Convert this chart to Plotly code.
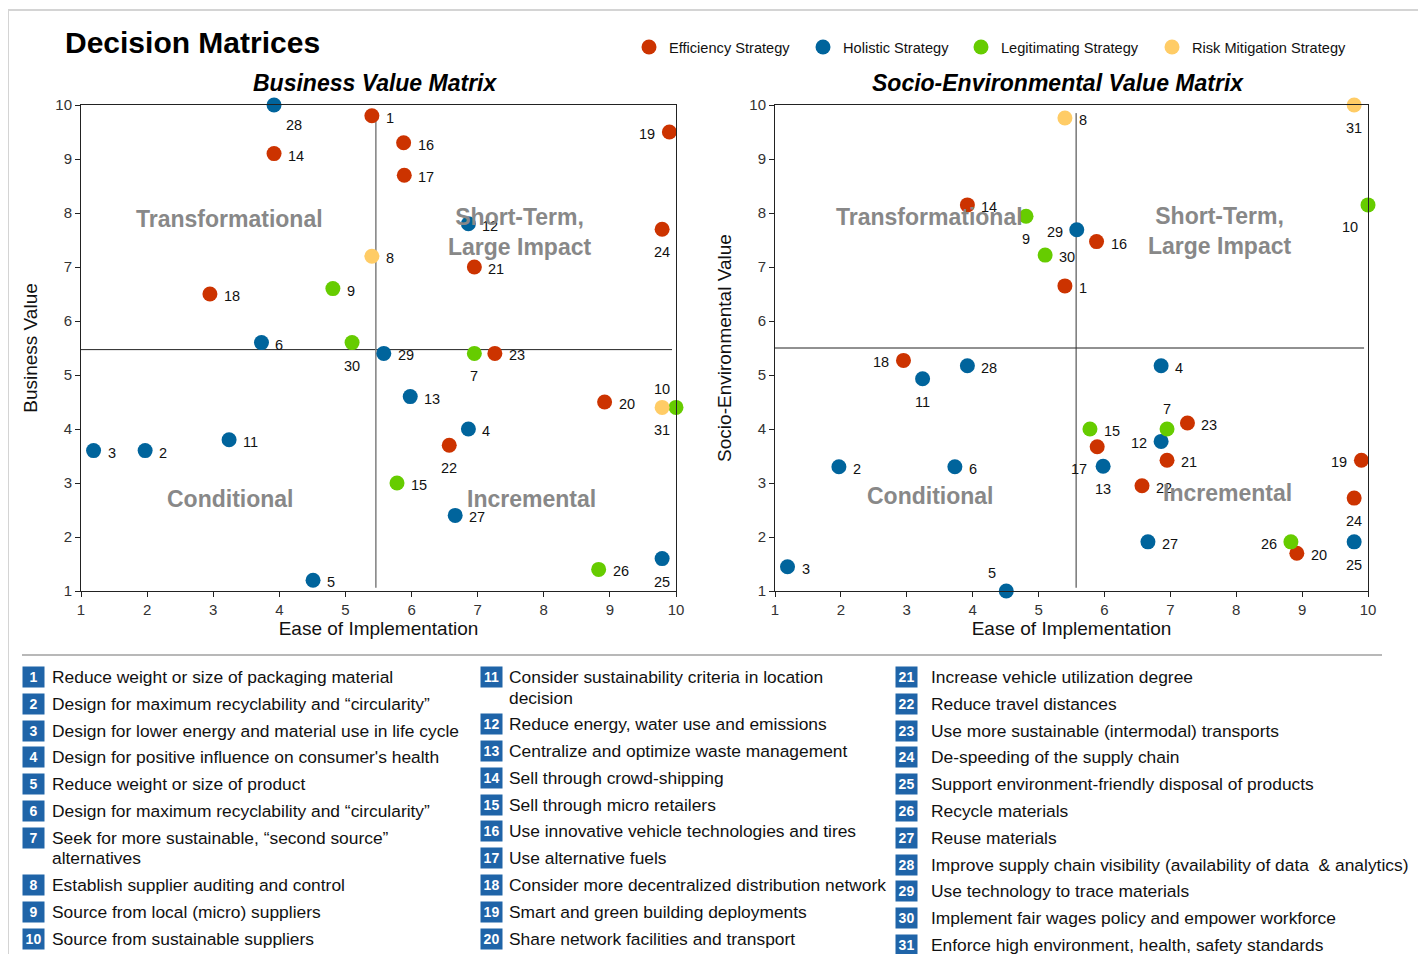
import plotly.graph_objects as go

# measure ids 1..31 and their strategy type
ids = list(range(1, 32))
strategy = ["Efficiency", "Holistic", "Holistic", "Holistic", "Holistic", "Holistic",
            "Legitimating", "Risk Mitigation", "Legitimating", "Legitimating",
            "Holistic", "Holistic", "Holistic", "Efficiency", "Legitimating",
            "Efficiency", "Efficiency", "Efficiency", "Efficiency", "Efficiency",
            "Efficiency", "Efficiency", "Efficiency", "Efficiency", "Holistic",
            "Legitimating", "Holistic", "Holistic", "Holistic", "Legitimating",
            "Risk Mitigation"]

# ease of implementation (same for both matrices)
ease = [5.4, 1.97, 1.19, 6.86, 4.51, 3.73, 6.95, 5.4, 4.81, 10.0,
        3.24, 6.86, 5.98, 3.92, 5.78, 5.88, 5.89, 2.95, 9.9, 8.92,
        6.95, 6.57, 7.26, 9.79, 9.79, 8.83, 6.66, 3.92, 5.58, 5.1, 9.79]

business_value = [9.8, 3.6, 3.6, 4.0, 1.2, 5.6, 5.4, 7.2, 6.6, 4.4,
                  3.8, 7.8, 4.6, 9.1, 3.0, 9.3, 8.7, 6.5, 9.5, 4.5,
                  7.0, 3.7, 5.4, 7.7, 1.6, 1.4, 2.4, 10.0, 5.4, 5.6, 4.4]

socio_env_value = [6.65, 3.3, 1.45, 5.17, 1.0, 3.3, 4.0, 9.76, 7.94, 8.15,
                   4.93, 3.77, 3.31, 8.15, 4.0, 7.47, 3.67, 5.27, 3.42, 1.7,
                   3.42, 2.95, 4.11, 2.72, 1.91, 1.91, 1.91, 5.17, 7.69, 7.22, 10.0]

# quadrant split lines (ease, value)
split_bv = (5.46, 5.47)
split_se = (5.57, 5.5)

descriptions = [
    "Reduce weight or size of packaging material",
    "Design for maximum recyclability and “circularity”",
    "Design for lower energy and material use in life cycle",
    "Design for positive influence on consumer's health",
    "Reduce weight or size of product",
    "Design for maximum recyclability and “circularity”",
    "Seek for more sustainable, “second source”<br>alternatives",
    "Establish supplier auditing and control",
    "Source from local (micro) suppliers",
    "Source from sustainable suppliers",
    "Consider sustainability criteria in location<br>decision",
    "Reduce energy, water use and emissions",
    "Centralize and optimize waste management",
    "Sell through crowd-shipping",
    "Sell through micro retailers",
    "Use innovative vehicle technologies and tires",
    "Use alternative fuels",
    "Consider more decentralized distribution network",
    "Smart and green building deployments",
    "Share network facilities and transport",
    "Increase vehicle utilization degree",
    "Reduce travel distances",
    "Use more sustainable (intermodal) transports",
    "De-speeding of the supply chain",
    "Support environment-friendly disposal of products",
    "Recycle materials",
    "Reuse materials",
    "Improve supply chain visibility (availability of data  & analytics)",
    "Use technology to trace materials",
    "Implement fair wages policy and empower workforce",
    "Enforce high environment, health, safety standards",
]

strategies = ["Efficiency", "Holistic", "Legitimating", "Risk Mitigation"]
colors = {"Efficiency": "#CC3300", "Holistic": "#00649C",
          "Legitimating": "#66CC00", "Risk Mitigation": "#FFCC66"}
legend_x = {"Efficiency": 629, "Holistic": 803, "Legitimating": 961, "Risk Mitigation": 1152}

# label placement around each marker (default: right)
bv_pos = {7: "b", 10: "tl", 19: "l", 22: "b", 24: "b", 25: "b", 28: "br", 30: "b", 31: "b"}
se_pos = {5: "tl", 7: "t", 9: "b", 10: "bl", 11: "b", 12: "l", 13: "b", 17: "bl",
          18: "l", 19: "l", 24: "b", 25: "b", 26: "l", 29: "l", 31: "b"}
# (xanchor, xshift, yshift)
placements = {"r": ("left", 12, -2), "l": ("right", -12, -2), "b": ("center", 0, -23),
              "t": ("center", 0, 20), "br": ("left", 10, -20), "bl": ("center", -18, -22),
              "tl": ("center", -14, 18)}

# page has an 8px body margin, so the figure is drawn inside it
# (height runs a bit past the window so the last list row is not cut)
PAD = 8
FW, FH = 1426 - 2 * PAD, 954 - PAD + 12
FONT = "Liberation Sans, Arial, sans-serif"


def px(x):
    return (x - PAD) / FW


def py(y):
    return 1 - (y - PAD) / FH


fig = go.Figure()

panels = [(business_value, bv_pos, "x", "y"), (socio_env_value, se_pos, "x2", "y2")]
for n_leg, s in enumerate(strategies):
    idx = [i for i in range(len(ids)) if strategy[i] == s]
    for k, (vals, pos, xa, ya) in enumerate(panels):
        fig.add_trace(go.Scatter(
            x=[ease[i] for i in idx],
            y=[vals[i] for i in idx],
            mode="markers",
            marker=dict(size=15, color=colors[s], line=dict(width=0)),
            name=s + " Strategy",
            legend="legend" if n_leg == 0 else "legend%d" % (n_leg + 1),
            showlegend=(k == 0),
            cliponaxis=False,
            xaxis=xa, yaxis=ya,
        ))

# point number labels
for vals, pos, xa, ya in panels:
    for i in range(len(ids)):
        xanc, dx, dy = placements[pos.get(ids[i], "r")]
        fig.add_annotation(x=ease[i], y=vals[i], xref=xa, yref=ya, text=str(ids[i]),
                           showarrow=False, xanchor=xanc, yanchor="middle",
                           xshift=dx, yshift=dy,
                           font=dict(size=14.5, color="#111"))

axis_common = dict(range=[1, 10], dtick=1, showline=True, linecolor="#222", linewidth=1,
                   mirror=True, ticks="outside", ticklen=5, tickcolor="#222",
                   showgrid=False, zeroline=False, automargin=False,
                   tickfont=dict(size=15, color="#333", family=FONT))
ydom = [py(591), py(105)]

layout_legends = {}
for n_leg, s in enumerate(strategies):
    key = "legend" if n_leg == 0 else "legend%d" % (n_leg + 1)
    layout_legends[key] = dict(orientation="h", x=px(legend_x[s]), xanchor="left",
                               y=py(47), yanchor="middle",
                               font=dict(size=14.6, family=FONT, color="#111"),
                               bgcolor="rgba(0,0,0,0)")

fig.update_layout(
    width=FW, height=FH,
    margin=dict(l=0, r=0, t=0, b=0, autoexpand=False),
    plot_bgcolor="white", paper_bgcolor="white",
    font=dict(family=FONT, color="#111"),
    xaxis=dict(domain=[px(81), px(676)], anchor="y",
               title=dict(text="Ease of Implementation", font=dict(size=19), standoff=4),
               **axis_common),
    yaxis=dict(domain=ydom, anchor="x",
               title=dict(text="Business Value", font=dict(size=19), standoff=12),
               **axis_common),
    xaxis2=dict(domain=[px(775), px(1368)], anchor="y2",
                title=dict(text="Ease of Implementation", font=dict(size=19), standoff=4),
                **axis_common),
    yaxis2=dict(domain=ydom, anchor="x2",
                title=dict(text="Socio-Environmental Value", font=dict(size=19), standoff=12),
                **axis_common),
    showlegend=True,
    **layout_legends,
)

# quadrant split lines
for (sx, sy), xr, yr, vcol, vw in [(split_bv, "x", "y", "#7f7f7f", 1.5),
                                   (split_se, "x2", "y2", "#333", 1)]:
    fig.add_shape(type="line", xref=xr, yref=yr, x0=1, x1=9.94, y0=sy, y1=sy,
                  line=dict(color="#222", width=1), layer="below")
    fig.add_shape(type="line", xref=xr, yref=yr, x0=sx, x1=sx, y0=1.06, y1=9.85,
                  line=dict(color=vcol, width=vw), layer="below")

# quadrant names
qfont = dict(size=23, color="#888888", family=FONT)
for xr, yr, items in [("x", "y", [(3.25, 7.89, "Transformational"),
                                  (7.63, 7.65, "Short-Term,<br>Large Impact"),
                                  (3.25, 2.7, "Conditional"),
                                  (7.82, 2.7, "Incremental")]),
                      ("x2", "y2", [(3.35, 7.93, "Transformational"),
                                    (7.75, 7.67, "Short-Term,<br>Large Impact"),
                                    (3.35, 2.76, "Conditional"),
                                    (7.86, 2.82, "Incremental")])]:
    for qx, qy, t in items:
        fig.add_annotation(x=qx, y=qy, xref=xr, yref=yr, text="<b>" + t + "</b>",
                           showarrow=False, xanchor="center", yanchor="middle", font=qfont)

# titles
fig.add_annotation(x=px(63), y=py(42), xref="paper", yref="paper", xanchor="left",
                   yanchor="middle", text="<b>Decision Matrices</b>", showarrow=False,
                   font=dict(size=30, color="#000"))
fig.add_annotation(x=px(375), y=py(83), xref="paper", yref="paper", xanchor="center",
                   yanchor="middle", text="<b><i>Business Value Matrix</i></b>",
                   showarrow=False, font=dict(size=23, color="#000"))
fig.add_annotation(x=px(1058), y=py(83), xref="paper", yref="paper", xanchor="center",
                   yanchor="middle", text="<b><i>Socio-Environmental Value Matrix</i></b>",
                   showarrow=False, font=dict(size=23, color="#000"))

# outer frame and separator
fig.add_shape(type="rect", xref="paper", yref="paper", x0=px(8), x1=px(1421),
              y0=py(1000), y1=py(10), line=dict(color="#d4d4d4", width=2))
fig.add_shape(type="line", xref="paper", yref="paper", x0=px(22), x1=px(1382),
              y0=py(655), y1=py(655), line=dict(color="#a0a0a0", width=1.5))

# numbered description list, three columns
columns = [(ids[0:10], 33.5, 50), (ids[10:20], 491, 507), (ids[20:31], 906.5, 929)]
for col_ids, box_x, text_x in columns:
    y = 677.0
    for n in col_ids:
        lines = descriptions[n - 1].split("<br>")
        fig.add_annotation(x=px(box_x), y=py(y), xref="paper", yref="paper",
                           xanchor="center", yanchor="middle",
                           text="<b>%d</b>" % n, showarrow=False, width=19, height=18,
                           bgcolor="#1F64A8", borderpad=1,
                           font=dict(size=14, color="white"))
        for j, line in enumerate(lines):
            fig.add_annotation(x=px(text_x), y=py(y + 20.5 * j), xref="paper", yref="paper",
                               xanchor="left", yanchor="middle", align="left", text=line,
                               showarrow=False, font=dict(size=17.4, color="#111"))
        y += 26.8 + 20.5 * (len(lines) - 1)

fig.write_html("out.html")
